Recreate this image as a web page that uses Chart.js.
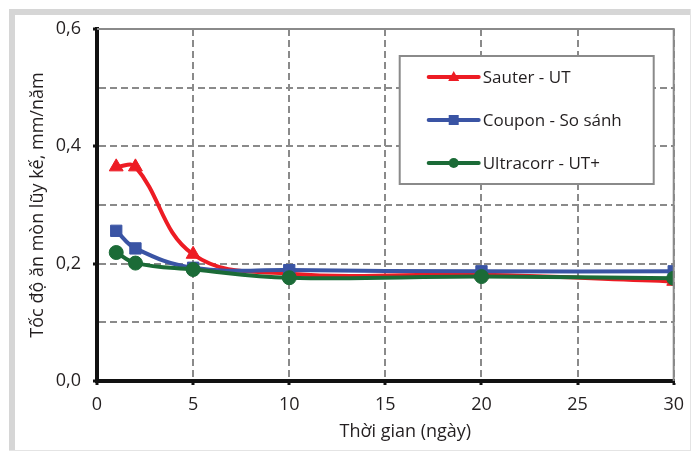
<!DOCTYPE html>
<html>
<head>
<meta charset="utf-8">
<script src="https://cdn.jsdelivr.net/npm/chart.js@4/dist/chart.umd.min.js"></script>
<style>
  html, body { margin: 0; padding: 0; background: #fff; }
  #wrap { width: 693px; height: 451px; }
</style>
</head>
<body>
<div id="wrap"><canvas id="chart" width="693" height="451"></canvas></div>
<script>
// data
const days = [1, 2, 5, 10, 20, 30];
const sauter = [0.365, 0.365, 0.216, 0.183, 0.181, 0.170];
const coupon = [0.256, 0.226, 0.193, 0.189, 0.187, 0.187];
const ultracorr = [0.219, 0.201, 0.190, 0.176, 0.178, 0.175];
const seriesNames = ['Sauter - UT', 'Coupon - So sánh', 'Ultracorr - UT+'];
const xTicks = [0, 5, 10, 15, 20, 25, 30];
const yTicks = [0, 0.1, 0.2, 0.3, 0.4, 0.5, 0.6];
const yLabelled = [0, 0.2, 0.4, 0.6];
const xTitle = 'Thời gian (ngày)';
const yTitle = 'Tốc độ ăn mòn lũy kế, mm/năm';

const colors = ['#ed1c24', '#3a54a4', '#1b6b37'];
const textColor = '#231f20';
const gridColor = '#8a8a8a';

function toPoints(ys) {
    return days.map((d, i) => ({ x: d, y: ys[i] }));
}
function isLabelled(v) {
    return yLabelled.some(l => Math.abs(l - v) < 1e-6);
}

const framePlugin = {
    id: 'frame',
    beforeDraw(chart) {
        const ctx = chart.ctx;
        ctx.save();
        ctx.fillStyle = '#ffffff';
        ctx.fillRect(0, 0, chart.width, chart.height);
        ctx.fillStyle = '#d6d6d6';
        ctx.fillRect(9, 9, 682, 6);
        ctx.fillRect(9, 9, 6, 442);
        ctx.fillStyle = '#e4e4e4';
        ctx.fillRect(690, 9, 1, 442);
        ctx.fillRect(9, 450, 682, 1);
        ctx.restore();
    },
    afterDatasetsDraw(chart) {
        const ctx = chart.ctx;
        const a = chart.chartArea;
        ctx.save();
        // top / right border of the plot
        ctx.strokeStyle = gridColor;
        ctx.lineWidth = 2;
        ctx.beginPath();
        ctx.moveTo(a.left, a.top);
        ctx.lineTo(a.right, a.top);
        ctx.lineTo(a.right, a.bottom);
        ctx.stroke();

        // x axis title, sits a bit right of centre in the original
        ctx.fillStyle = textColor;
        ctx.font = '18px "Open Sans"';
        ctx.textAlign = 'center';
        ctx.textBaseline = 'middle';
        ctx.fillText(xTitle, (a.left + a.right) / 2 + 20, 432);

        // legend box
        const bx = a.right - 274, by = a.top + 27, bw = 254, bh = 128;
        ctx.fillStyle = '#ffffff';
        ctx.fillRect(bx, by, bw, bh);
        ctx.strokeStyle = gridColor;
        ctx.lineWidth = 2;
        ctx.strokeRect(bx, by, bw, bh);

        chart.data.datasets.forEach((ds, i) => {
            const y = by + 21 + i * 43;
            const x0 = bx + 29, x1 = bx + 79, xm = (x0 + x1) / 2;
            ctx.strokeStyle = ds.borderColor;
            ctx.lineWidth = 4;
            ctx.lineCap = 'round';
            ctx.beginPath();
            ctx.moveTo(x0, y);
            ctx.lineTo(x1, y);
            ctx.stroke();
            ctx.fillStyle = ds.borderColor;
            ctx.beginPath();
            if (ds.pointStyle === 'triangle') {
                ctx.moveTo(xm, y - 6);
                ctx.lineTo(xm + 5.5, y + 4);
                ctx.lineTo(xm - 5.5, y + 4);
                ctx.closePath();
            } else if (ds.pointStyle === 'rect') {
                ctx.rect(xm - 5, y - 5, 10, 10);
            } else {
                ctx.arc(xm, y, 5, 0, Math.PI * 2);
            }
            ctx.fill();
            ctx.fillStyle = textColor;
            ctx.font = '17px "Open Sans"';
            ctx.textBaseline = 'middle';
            ctx.textAlign = 'left';
            ctx.fillText(ds.label, x1 + 4, y + 1);
        });
        ctx.restore();
    }
};

const ctx = document.getElementById('chart').getContext('2d');
new Chart(ctx, {
    type: 'line',
    data: {
        datasets: [
            {
                label: seriesNames[0],
                data: toPoints(sauter),
                borderColor: colors[0],
                backgroundColor: colors[0],
                pointStyle: 'triangle',
                pointRadius: 8,
                order: 3
            },
            {
                label: seriesNames[1],
                data: toPoints(coupon),
                borderColor: colors[1],
                backgroundColor: colors[1],
                pointStyle: 'rect',
                pointRadius: 8,
                order: 2
            },
            {
                label: seriesNames[2],
                data: toPoints(ultracorr),
                borderColor: colors[2],
                backgroundColor: colors[2],
                pointStyle: 'circle',
                pointRadius: 7,
                order: 1
            }
        ]
    },
    options: {
        responsive: false,
        animation: false,
        events: [],
        layout: { padding: { left: 14, top: 29, right: 15, bottom: 0 } },
        elements: {
            line: { borderWidth: 4, tension: 0.4 },
            point: { borderWidth: 1 }
        },
        scales: {
            x: {
                type: 'linear',
                min: 0,
                max: 30,
                afterBuildTicks: scale => { scale.ticks = xTicks.map(v => ({ value: v })); },
                afterFit: scale => { scale.height = 70; },
                grid: {
                    color: gridColor,
                    lineWidth: 2,
                    tickColor: '#111',
                    tickWidth: 3,
                    tickLength: 4
                },
                border: { color: '#111', width: 4, dash: [7, 4] },
                ticks: {
                    color: textColor,
                    font: { family: 'Open Sans', size: 18 },
                    padding: 9,
                    maxRotation: 0,
                    callback: v => String(v)
                },
                title: { display: false }
            },
            y: {
                min: 0,
                max: 0.6,
                afterBuildTicks: scale => { scale.ticks = yTicks.map(v => ({ value: v })); },
                afterFit: scale => { scale.width = 83; },
                grid: {
                    color: gridColor,
                    lineWidth: 2,
                    tickColor: c => isLabelled(c.tick.value) ? '#111' : 'rgba(0,0,0,0)',
                    tickWidth: 3,
                    tickLength: 4
                },
                border: { color: '#111', width: 4, dash: [7, 4] },
                ticks: {
                    color: textColor,
                    font: { family: 'Open Sans', size: 18 },
                    padding: 12,
                    callback: v => isLabelled(v) ? v.toFixed(1).replace('.', ',') : ''
                },
                title: {
                    display: true,
                    text: yTitle,
                    color: textColor,
                    font: { family: 'Open Sans', size: 18 },
                    padding: { top: 13, bottom: 0 }
                }
            }
        },
        plugins: {
            legend: { display: false },
            tooltip: { enabled: false }
        }
    },
    plugins: [framePlugin]
});
</script>
</body>
</html>
